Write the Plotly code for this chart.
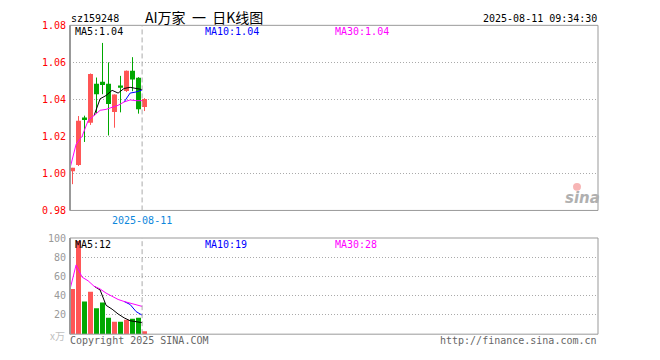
import plotly.graph_objects as go

W, H = 660, 360

# ---------------- data ----------------
idx = list(range(13))
opens  = [1.0012, 1.0046, 1.0302, 1.0274, 1.0484, 1.0495, 1.0484, 1.0332, 1.0475, 1.0445, 1.0554, 1.0517, 1.0359]
closes = [1.0030, 1.0284, 1.0288, 1.0537, 1.0428, 1.0477, 1.0375, 1.0427, 1.0463, 1.0554, 1.0508, 1.0347, 1.0402]
highs  = [1.0030, 1.0310, 1.0312, 1.0540, 1.0518, 1.0705, 1.0600, 1.0427, 1.0527, 1.0556, 1.0628, 1.0520, 1.0407]
lows   = [0.9942, 1.0040, 1.0170, 1.0262, 1.0325, 1.0428, 1.0205, 1.0247, 1.0330, 1.0440, 1.0444, 1.0323, 1.0337]

ma5  = [None, None, None, None, 1.0313, 1.0403, 1.0421, 1.0449, 1.0434, 1.0459, 1.0465, 1.0459, 1.0453]
ma10 = [None] * 9 + [1.0386, 1.0434, 1.0440, 1.0451]
ma30 = [1.0030, 1.0157, 1.0201, 1.0285, 1.0313, 1.0341, 1.0346, 1.0356, 1.0368, 1.0386, 1.0397, 1.0393, 1.0393]

volumes = [47, 97, 34, 44, 27, 33, 17, 13, 13, 15, 16, 17, 3]
vma5  = [None, None, None, None, 49.8, 46, 30, 26, 21, 17, 14, 13, 12]
vma10 = [None] * 9 + [34, 30.9, 23.5, 19.8]
vma30 = [47, 72, 59.3, 55.5, 49.8, 47, 42.7, 39, 36.1, 34, 32.4, 31.1, 28.9]

price_ticks = [0.98, 1.00, 1.02, 1.04, 1.06, 1.08]
price_tick_labels = ["0.98", "1.00", "1.02", "1.04", "1.06", "1.08"]
vol_ticks = [20, 40, 60, 80, 100]
vol_tick_labels = ["20", "40", "60", "80", "100"]

today_index = 12
today_label = "2025-08-11"
code = "sz159248"
title = "AI万家  一  日K线图"
stamp = "2025-08-11 09:34:30"
legend_price = ["MA5:1.04", "MA10:1.04", "MA30:1.04"]
legend_vol = ["MA5:12", "MA10:19", "MA30:28"]

# ---------------- styling ----------------
RED = "#ff5555"
GREEN = "#00a800"
MONO = "DejaVu Sans Mono"
LINE_OFF = -0.4  # MA lines are drawn at the candle's left edge


def X(px):
    return px / W


def Y(py):
    return 1 - py / H


colors = [RED if c >= o else GREEN for o, c in zip(opens, closes)]

fig = go.Figure()

# candle bodies
fig.add_trace(go.Bar(
    x=idx, y=[max(abs(c - o), 0.0001) for o, c in zip(opens, closes)],
    base=[min(o, c) for o, c in zip(opens, closes)],
    width=0.83, marker=dict(color=colors, line=dict(width=0)),
    xaxis="x", yaxis="y", showlegend=False, hoverinfo="skip"))

# wicks
for col in (RED, GREEN):
    xs, ys = [], []
    for i, o, c, h, l in zip(idx, opens, closes, highs, lows):
        if (RED if c >= o else GREEN) == col:
            xs += [i, i, None]
            ys += [l, h, None]
    fig.add_trace(go.Scatter(x=xs, y=ys, mode="lines", line=dict(color=col, width=1),
                             xaxis="x", yaxis="y", showlegend=False, hoverinfo="skip"))

# price MA lines
for series, col in ((ma5, "#000000"), (ma10, "#0000ff"), (ma30, "#ff00ff")):
    fig.add_trace(go.Scatter(x=[i + LINE_OFF for i in idx], y=series, mode="lines",
                             line=dict(color=col, width=1), connectgaps=False,
                             xaxis="x", yaxis="y", showlegend=False, hoverinfo="skip"))

# volume bars
fig.add_trace(go.Bar(x=idx, y=volumes, width=0.83,
                     marker=dict(color=colors, line=dict(width=0)),
                     xaxis="x2", yaxis="y2", showlegend=False, hoverinfo="skip"))

for series, col in ((vma5, "#000000"), (vma10, "#0000ff"), (vma30, "#ff00ff")):
    fig.add_trace(go.Scatter(x=[i + LINE_OFF for i in idx], y=series, mode="lines",
                             line=dict(color=col, width=1),
                             xaxis="x2", yaxis="y2", showlegend=False, hoverinfo="skip"))

xrange = [-0.4167, 87.583]
xdom = [X(70), X(598)]
price_dom = [Y(211.5), Y(20)]
vol_dom = [Y(339.5), Y(240)]

grid = dict(showgrid=True, gridcolor="#aaaaaa", griddash="1px,2px", gridwidth=1, zeroline=False)

fig.update_layout(
    width=W, height=H, autosize=False,
    margin=dict(l=0, r=0, t=0, b=0),
    paper_bgcolor="white", plot_bgcolor="white",
    barmode="overlay", hovermode=False,
    xaxis=dict(domain=xdom, range=xrange, showticklabels=False, showgrid=False,
               zeroline=False, showline=False, fixedrange=True),
    xaxis2=dict(domain=xdom, range=xrange, showticklabels=False, showgrid=False,
                zeroline=False, showline=False, anchor="y2", fixedrange=True),
    yaxis=dict(domain=price_dom, range=[0.98, 1.08], tickvals=price_ticks,
               ticktext=price_tick_labels, tickfont=dict(family=MONO, size=10, color="#ff0000"),
               ticks="", ticklabelstandoff=3, showline=False, fixedrange=True, **grid),
    yaxis2=dict(domain=vol_dom, range=[0, 100], tickvals=vol_ticks, ticktext=vol_tick_labels,
                tickfont=dict(family=MONO, size=10, color="#999999"), anchor="x2",
                ticks="", ticklabelstandoff=3, showline=False, fixedrange=True, **grid),
)

shapes = []
# panel borders
for top, bot in ((20, 211.5), (240, 339.5)):
    shapes.append(dict(type="rect", xref="paper", yref="paper",
                       x0=X(70), x1=X(598), y0=Y(bot), y1=Y(top),
                       line=dict(color="#999999", width=1)))
    shapes.append(dict(type="line", xref="paper", yref="paper",
                       x0=X(70), x1=X(70), y0=Y(bot), y1=Y(top),
                       line=dict(color="#999999", width=2)))
# today dashed marker
for yr in ("y domain", "y2 domain"):
    shapes.append(dict(type="line", xref="x", yref=yr,
                       x0=today_index + LINE_OFF, x1=today_index + LINE_OFF, y0=0, y1=1,
                       line=dict(color="#aaaaaa", width=1, dash="5px,3px"), layer="above"))
# sina watermark eye
shapes.append(dict(type="circle", xref="paper", yref="paper",
                   x0=X(573), x1=X(581), y0=Y(191), y1=Y(183),
                   fillcolor="#f7b5b5", line=dict(width=0), layer="below"))
fig.update_layout(shapes=shapes)

ann = []


def text(t, px, py, color="#000000", size=10, family=MONO, anchor="left", **kw):
    ann.append(dict(text=t, x=X(px), y=Y(py), xref="paper", yref="paper",
                    xanchor=anchor, yanchor="middle", showarrow=False, borderpad=0,
                    font=dict(family=family, size=size, color=color, **kw)))


text(code, 70, 12.5)
text(title, 204, 11.5, size=14, family="Noto Sans CJK SC", anchor="center")
text(stamp, 598, 12.5, anchor="right")

text(legend_price[0], 74, 26.5, color="#000000")
text(legend_price[1], 204, 26.5, color="#0000ff")
text(legend_price[2], 334, 26.5, color="#ff00ff")

text(legend_vol[0], 74, 246.5, color="#000000")
text(legend_vol[1], 204, 246.5, color="#0000ff")
text(legend_vol[2], 334, 246.5, color="#ff00ff")

text(today_label, 141.5, 221.5, color="#0d87dc", anchor="center")
text("x万", 66, 341, color="#c0c0c0", anchor="right", family="Noto Sans CJK SC")
text("Copyright 2025 SINA.COM", 69, 346, color="#666666")
text("http://finance.sina.com.cn", 598, 346, color="#666666", anchor="right")

# sina watermark
text("sina", 582, 199, color="#b0b0b0", size=15, family="DejaVu Sans",
     anchor="center", weight="bold", style="italic")

fig.update_layout(annotations=ann)

fig.write_html(
    "out.html",
    config={"displayModeBar": False, "staticPlot": True},
    post_script="document.body.style.margin='0';document.body.style.overflow='hidden';",
)
